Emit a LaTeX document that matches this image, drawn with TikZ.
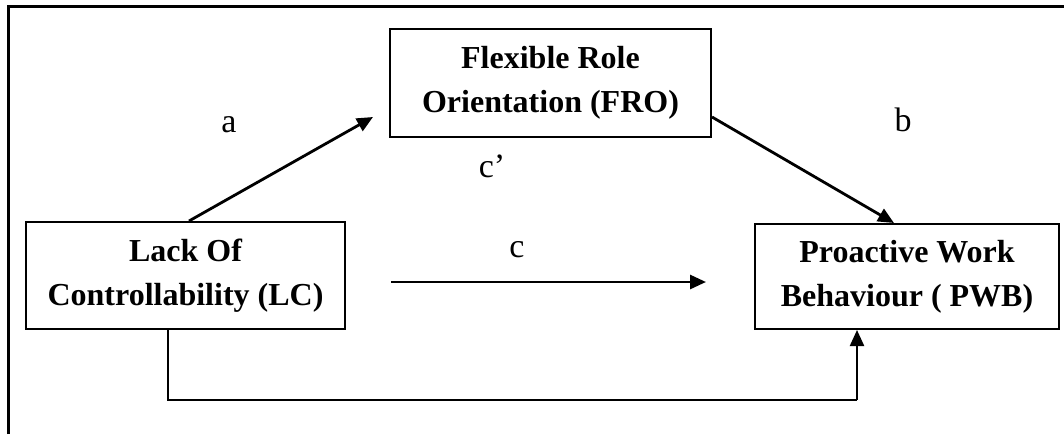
\documentclass[tikz,border=0pt]{standalone}
\usepackage{fontspec}
\setmainfont{Liberation Serif}
\usetikzlibrary{arrows.meta}
\begin{document}
\begin{tikzpicture}[x=1pt,y=-1pt,
  box/.style={draw,line width=2pt,minimum width=#1,inner sep=0pt,align=center,
    font=\fontsize{32}{44}\selectfont\bfseries},
  lbl/.style={font=\fontsize{34}{40}\selectfont,inner sep=0pt},
  arr/.style={line width=2.8pt,-{Triangle[length=16pt,width=14pt]}},
  thin/.style={line width=1.8pt}]
\useasboundingbox (0,0) rectangle (1064,434);
\draw[line width=3pt] (8,434) -- (8,6) -- (1064,6);
\node[box=319pt,minimum height=107pt] (lc) at (185.5,275.5) {Lack Of\\Controllability (LC)};
\node[box=321pt,minimum height=108pt] (fro) at (550.5,83) {Flexible Role\\Orientation (FRO)};
\node[box=304pt,minimum height=105pt] (pwb) at (907,276.5) {Proactive Work\\Behaviour ( PWB)};
\coordinate (aend) at (373,117);
\coordinate (cstart) at (391,282);
\coordinate (cend) at (706,282);
\draw[arr] (lc.north -| 189,0) -- (aend);
\draw[arr] (fro.east |- 0,117) -- (pwb.north -| 894,0);
\draw[arr] (cstart) -- (cend);
\draw[thin] (lc.south -| 168,0) -- (168,400) -- (857,400);
\draw[arr,line width=2.2pt] (857,400) -- (pwb.south -| 857,0);
\node[lbl] (la) at (229,125) {a};
\node[lbl] (lb) at (903,120) {b};
\node[lbl] (lcp) at (492,166) {c’};
\node[lbl] (lcc) at (517,250) {c};
\end{tikzpicture}
\end{document}
